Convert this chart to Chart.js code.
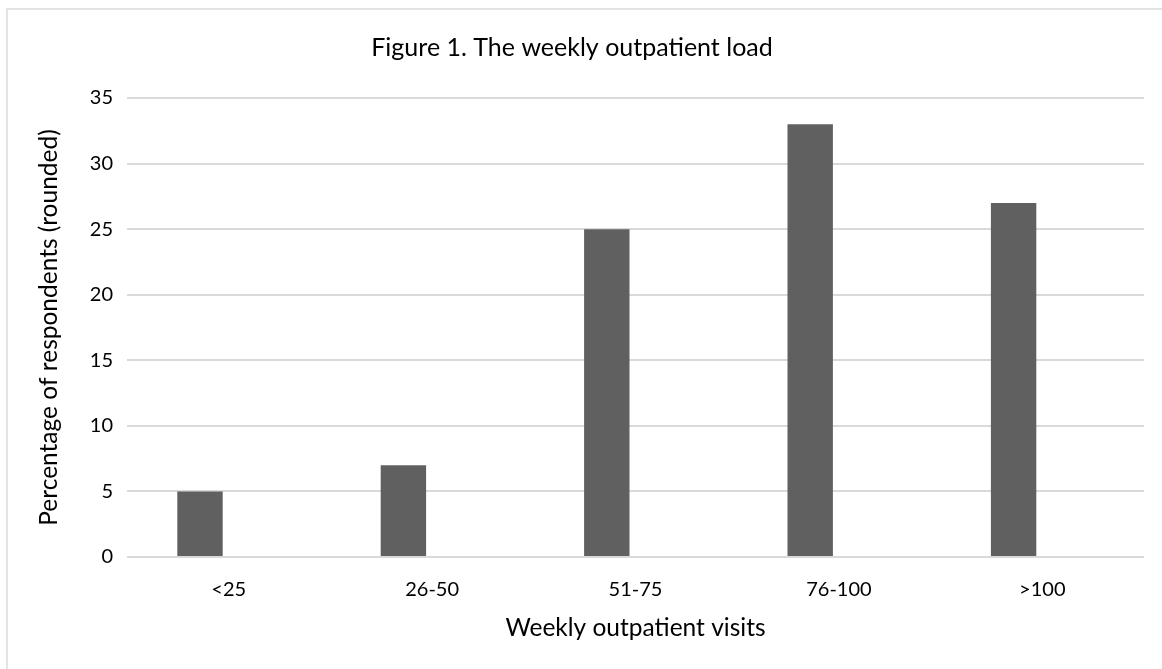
<!DOCTYPE html>
<html>
<head>
<meta charset="utf-8">
<script src="https://cdn.jsdelivr.net/npm/chart.js@4.4.1/dist/chart.umd.min.js"></script>
<style>
  html, body { margin: 0; padding: 0; background: #ffffff; }
  #wrap { width: 1162px; height: 669px; position: relative; }
</style>
</head>
<body>
<div id="wrap"><canvas id="c" width="1162" height="669"></canvas></div>
<script>
const categories = ['<25', '26-50', '51-75', '76-100', '>100'];
const respondentsPercent = [5, 7, 25, 33, 27];
const emptySeries = [null, null, null, null, null];
const yTickMin = 0;
const yTickMax = 35;
const yTickStep = 5;
const chartTitle = 'Figure 1. The weekly outpatient load';
const xAxisTitle = 'Weekly outpatient visits';
const yAxisTitle = 'Percentage of respondents (rounded)';

const FONT = 'Lato, "Noto Sans", sans-serif';

const outerBorder = {
  id: 'outerBorder',
  beforeDraw(chart) {
    const ctx = chart.ctx;
    ctx.save();
    ctx.fillStyle = '#ffffff';
    ctx.fillRect(0, 0, chart.width, chart.height);
    ctx.strokeStyle = '#e3e3e3';
    ctx.lineWidth = 2;
    ctx.strokeRect(7, 9, chart.width + 50, chart.height + 50);
    ctx.restore();
  }
};

new Chart(document.getElementById('c'), {
  type: 'bar',
  data: {
    labels: categories,
    datasets: [
      {
        label: 'Respondents',
        data: respondentsPercent,
        backgroundColor: '#606060',
        borderWidth: 0,
        categoryPercentage: 0.5644,
        barPercentage: 0.791
      },
      {
        label: 'Empty',
        data: emptySeries,
        backgroundColor: '#606060',
        borderWidth: 0,
        categoryPercentage: 0.5644,
        barPercentage: 0.791
      }
    ]
  },
  options: {
    responsive: false,
    animation: false,
    layout: { padding: { left: 0, right: 18, top: 0, bottom: 0 } },
    plugins: {
      legend: { display: false },
      tooltip: { enabled: false },
      title: {
        display: true,
        text: chartTitle,
        color: '#000000',
        font: { family: FONT, size: 25, weight: 'normal' },
        padding: { top: 33, bottom: 35 }
      }
    },
    scales: {
      x: {
        grid: { display: false, drawTicks: false },
        border: { display: false },
        ticks: {
          color: '#000000',
          font: { family: FONT, size: 20 },
          padding: 21,
          maxRotation: 0
        },
        title: {
          display: true,
          text: xAxisTitle,
          color: '#000000',
          font: { family: FONT, size: 24.5 },
          padding: { top: 26, bottom: 26 }
        },
        afterFit(scale) { scale.height = 112; }
      },
      y: {
        min: yTickMin,
        max: yTickMax,
        grid: { color: '#d9d9d9', lineWidth: 2, drawTicks: false },
        border: { display: false },
        ticks: {
          stepSize: yTickStep,
          color: '#000000',
          font: { family: FONT, size: 20 },
          padding: 14
        },
        title: {
          display: true,
          text: yAxisTitle,
          color: '#000000',
          font: { family: FONT, size: 24.5 },
          padding: { top: 34, bottom: 34 }
        },
        afterFit(scale) { scale.width = 127; }
      }
    }
  },
  plugins: [outerBorder]
});
</script>
</body>
</html>
